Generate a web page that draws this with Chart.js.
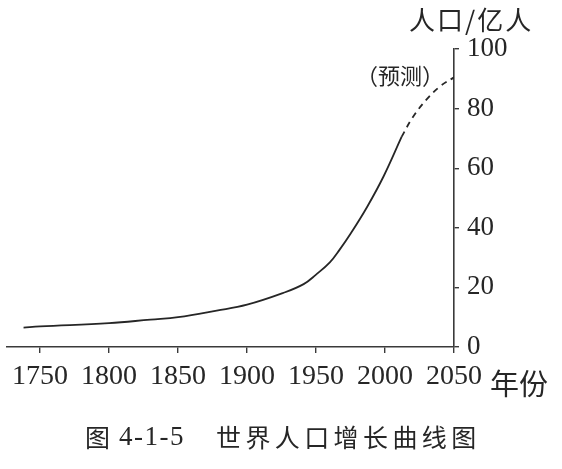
<!DOCTYPE html>
<html>
<head>
<meta charset="utf-8">
<script src="https://cdn.jsdelivr.net/npm/chart.js@4/dist/chart.umd.min.js"></script>
<style>
html,body{margin:0;padding:0;background:#fff;}
#wrap{width:562px;height:469px;position:relative;}
</style>
</head>
<body>
<div id="wrap"><canvas id="c"></canvas></div>
<script>
// Observed population (亿人)
const years = [1738, 1750, 1800, 1830, 1850, 1878, 1900, 1926, 1941, 1950, 1960, 1967, 1975, 1987, 1999, 2012];
const pops  = [6.5, 6.9, 8.0, 9.2, 10.0, 12.2, 14.2, 18.1, 21.1, 24.3, 28.4, 32.6, 38.0, 47.0, 57.3, 70.5];
// Forecast (预测)
const forecastYears = [2012, 2020, 2030, 2040, 2050];
const forecastPops  = [70.5, 77, 83, 87.5, 90.5];
// Tick labels
const xTicks = [1750, 1800, 1850, 1900, 1950, 2000, 2050];
const yTicks = [0, 20, 40, 60, 80, 100];

const toPts = (xs, ys) => xs.map((x, i) => ({x: x, y: ys[i]}));
const INK = '#262626';
const AXIS = '#3a3a3a';
const SERIF = "'Liberation Serif', 'Noto Sans CJK SC', serif";
const CJK = "'Noto Sans CJK SC', sans-serif";

const textPlugin = {
  id: 'texts',
  afterDraw(chart) {
    const ctx = chart.ctx;
    ctx.save();
    ctx.fillStyle = INK;
    ctx.textBaseline = 'middle';
    ctx.textAlign = 'left';
    ctx.font = "26px " + CJK;
    ctx.letterSpacing = '2px';
    ctx.fillText('人口/亿人', 409, 20);
    ctx.letterSpacing = '0px';
    ctx.font = "22px " + CJK;
    ctx.fillText('（预测）', 356, 76);
    ctx.font = "29px " + CJK;
    ctx.fillText('年份', 490, 384);
    ctx.font = "25px " + CJK;
    ctx.fillText('图', 85, 437);
    ctx.font = "27px " + SERIF;
    ctx.letterSpacing = '1.5px';
    ctx.fillText('4-1-5', 119, 438);
    ctx.font = "25px " + CJK;
    ctx.letterSpacing = '4.4px';
    ctx.fillText('世界人口增长曲线图', 216, 437);
    ctx.restore();
  }
};

new Chart(document.getElementById('c'), {
  type: 'line',
  data: {
    datasets: [
      {
        label: '人口',
        data: toPts(years, pops),
        borderColor: INK,
        borderWidth: 1.8,
        pointRadius: 0,
        fill: false,
        tension: 0.4
      },
      {
        label: '预测',
        data: toPts(forecastYears, forecastPops),
        borderColor: INK,
        borderWidth: 1.8,
        borderDash: [6, 5],
        pointRadius: 0,
        fill: false,
        tension: 0.4
      }
    ]
  },
  options: {
    responsive: true,
    maintainAspectRatio: false,
    animation: false,
    devicePixelRatio: 1,
    layout: { padding: { left: 7, top: 49, right: 0, bottom: 0 } },
    plugins: { legend: { display: false }, tooltip: { enabled: false }, title: { display: false } },
    scales: {
      x: {
        type: 'linear',
        position: 'bottom',
        min: 1726,
        max: 2050,
        afterBuildTicks: s => { s.ticks = xTicks.map(v => ({value: v})); },
        afterFit: s => { s.height = 122; },
        grid: { drawOnChartArea: false, drawTicks: true, tickLength: 6, color: AXIS, lineWidth: 1.4 },
        border: { display: true, color: AXIS, width: 1.6 },
        ticks: {
          autoSkip: false, maxRotation: 0, padding: 7, color: INK,
          font: { family: SERIF, size: 28 },
          callback: v => String(v)
        }
      },
      y: {
        type: 'linear',
        position: 'right',
        min: 0,
        max: 100,
        afterBuildTicks: s => { s.ticks = yTicks.map(v => ({value: v})); },
        afterFit: s => { s.width = 108; },
        grid: { drawOnChartArea: false, drawTicks: true, tickLength: 5, color: AXIS, lineWidth: 1.4 },
        border: { display: true, color: AXIS, width: 1.6 },
        ticks: {
          padding: 8, color: INK,
          font: { family: SERIF, size: 27 },
          callback: v => String(v)
        }
      }
    }
  },
  plugins: [textPlugin]
});
</script>
</body>
</html>
